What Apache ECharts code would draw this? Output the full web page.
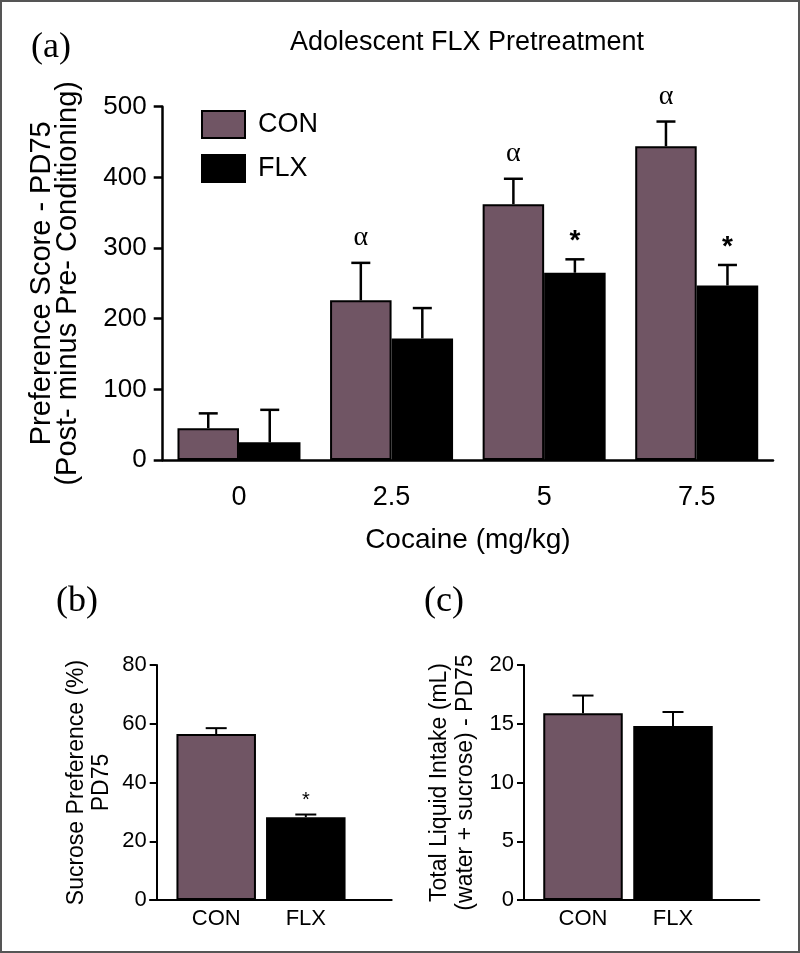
<!DOCTYPE html>
<html>
<head>
<meta charset="utf-8">
<script src="https://cdn.jsdelivr.net/npm/echarts@6/dist/echarts.min.js"></script>
<style>
  html, body { margin: 0; padding: 0; background: #fff; }
  #chart { width: 800px; height: 953px; }
</style>
</head>
<body>
<div id="chart"></div>
<script>
// ---------- Data ----------
const groups = ['CON', 'FLX'];
const aCategories = ['0', '2.5', '5', '7.5'];
const aConMean = [45, 226, 362, 444];
const aConErr  = [21, 53, 36, 35];
const aFlxMean = [25, 172, 265, 247];
const aFlxErr  = [46, 43, 19, 29];
const aConSig  = ['', 'α', 'α', 'α'];
const aFlxSig  = ['', '', '*', '*'];

const bMean = [56.5, 28.2];
const bErr  = [2.0, 0.9];
const bSig  = ['', '*'];

const cMean = [15.9, 14.8];
const cErr  = [1.5, 1.2];
const cSig  = ['', ''];

const aTitle = 'Adolescent FLX Pretreatment';
const aYName = 'Preference Score - PD75\n(Post- minus Pre- Conditioning)';
const aXName = 'Cocaine (mg/kg)';
const bYName = 'Sucrose Preference (%)\nPD75';
const cYName = 'Total Liquid Intake (mL)\n(water + sucrose) - PD75';

// ---------- Styles ----------
const SANS = "'Liberation Sans', Arial, Helvetica, sans-serif";
const SERIF = "'Liberation Serif', 'Times New Roman', serif";
const CON_COLOR = '#705564';
const FLX_COLOR = '#000000';
const groupColors = [CON_COLOR, FLX_COLOR];

function errSeries(xi, yi, means, errs, sigs, offset, capW, lw, sigFont, sigGap) {
  return {
    type: 'custom',
    xAxisIndex: xi, yAxisIndex: yi,
    z: 5,
    silent: true,
    data: means.map((m, i) => [i, m, errs[i]]),
    encode: { x: 0, y: 1 },
    renderItem: function (params, api) {
      const i = api.value(0), m = api.value(1), e = api.value(2);
      const p0 = api.coord([i, m]);
      const p1 = api.coord([i, m + e]);
      const x = p0[0] + offset;
      const sig = sigs[params.dataIndex];
      const children = [
        { type: 'line', shape: { x1: x, y1: p0[1], x2: x, y2: p1[1] }, style: { stroke: '#000', lineWidth: lw } },
        { type: 'line', shape: { x1: x - capW / 2, y1: p1[1], x2: x + capW / 2, y2: p1[1] }, style: { stroke: '#000', lineWidth: lw } }
      ];
      if (sig) {
        const isAlpha = sig === 'α';
        children.push({
          type: 'text',
          style: {
            text: sig, x: x, y: p1[1] - (isAlpha ? sigGap[0] : sigGap[1]),
            align: 'center', verticalAlign: 'middle',
            font: isAlpha ? sigFont[0] : sigFont[1], fill: '#000'
          }
        });
      }
      return { type: 'group', children: children };
    }
  };
}

const chart = echarts.init(document.getElementById('chart'), null, { renderer: 'canvas' });

const option = {
  animation: false,
  backgroundColor: '#fff',
  textStyle: { fontFamily: SANS, color: '#000' },
  legend: {
    orient: 'vertical',
    left: 196, top: 105,
    itemWidth: 43, itemHeight: 27, itemGap: 15,
    icon: 'rect',
    data: groups,
    textStyle: { fontSize: 27, color: '#000', fontFamily: SANS, padding: [0, 0, 0, 8] },
    selectedMode: false
  },
  graphic: [
    { type: 'rect', shape: { x: 1, y: 1, width: 798, height: 951 }, style: { fill: 'none', stroke: '#555', lineWidth: 2 }, silent: true },
    { type: 'text', style: { text: '(a)', x: 51, y: 48, align: 'center', verticalAlign: 'middle', font: '36px ' + SERIF, fill: '#000' } },
    { type: 'text', style: { text: aTitle, x: 467, y: 43, align: 'center', verticalAlign: 'middle', font: '27px ' + SANS, fill: '#000' } },
    { type: 'text', style: { text: '(b)', x: 77, y: 602, align: 'center', verticalAlign: 'middle', font: '36px ' + SERIF, fill: '#000' } },
    { type: 'text', style: { text: '(c)', x: 444, y: 602, align: 'center', verticalAlign: 'middle', font: '36px ' + SERIF, fill: '#000' } }
  ],
  grid: [
    { left: 162.7, width: 610.3, top: 106.7, height: 353.3 },   // a
    { left: 171.4, width: 179.2, top: 665, height: 235 },       // b bars
    { left: 150, width: 241.7, top: 665, height: 235 },         // b axis line
    { left: 538, width: 180, top: 665, height: 235 },           // c bars
    { left: 518.3, width: 241, top: 665, height: 235 }          // c axis line
  ],
  xAxis: [
    {
      gridIndex: 0, type: 'category', data: aCategories,
      axisLine: { lineStyle: { color: '#000', width: 2.5 } },
      axisTick: { show: false },
      axisLabel: { fontSize: 27, color: '#000', margin: 24, fontFamily: SANS },
      name: aXName, nameLocation: 'middle', nameGap: 66,
      nameTextStyle: { fontSize: 28, color: '#000', fontFamily: SANS }
    },
    {
      gridIndex: 1, type: 'category', data: groups,
      axisLine: { show: false }, axisTick: { show: false },
      axisLabel: { fontSize: 22, color: '#000', margin: 8, fontFamily: SANS }
    },
    {
      gridIndex: 2, type: 'value', min: 0, max: 1,
      axisLine: { onZero: false, lineStyle: { color: '#000', width: 2 } },
      axisTick: { show: false }, axisLabel: { show: false }, splitLine: { show: false }
    },
    {
      gridIndex: 3, type: 'category', data: groups,
      axisLine: { show: false }, axisTick: { show: false },
      axisLabel: { fontSize: 22, color: '#000', margin: 8, fontFamily: SANS }
    },
    {
      gridIndex: 4, type: 'value', min: 0, max: 1,
      axisLine: { onZero: false, lineStyle: { color: '#000', width: 2 } },
      axisTick: { show: false }, axisLabel: { show: false }, splitLine: { show: false }
    }
  ],
  yAxis: [
    {
      gridIndex: 0, type: 'value', min: 0, max: 500, interval: 100,
      axisLine: { show: true, lineStyle: { color: '#000', width: 2.5 } },
      axisTick: { show: true, length: 9, lineStyle: { color: '#000', width: 2.5 } },
      axisLabel: { fontSize: 26, color: '#000', margin: 16, fontFamily: SANS },
      splitLine: { show: false },
      name: aYName, nameLocation: 'middle', nameGap: 82,
      nameTextStyle: { fontSize: 29, lineHeight: 26, color: '#000', fontFamily: SANS, align: 'center' }
    },
    {
      gridIndex: 1, type: 'value', min: 0, max: 80, interval: 20, offset: 14.7,
      axisLine: { show: true, lineStyle: { color: '#000', width: 2 } },
      axisTick: { show: true, length: 7, lineStyle: { color: '#000', width: 2 } },
      axisLabel: { fontSize: 22, color: '#000', margin: 10, fontFamily: SANS },
      splitLine: { show: false },
      name: bYName, nameLocation: 'middle', nameGap: 43,
      nameTextStyle: { fontSize: 23, lineHeight: 25, color: '#000', fontFamily: SANS, align: 'center' }
    },
    { gridIndex: 2, type: 'value', min: 0, max: 1, show: false },
    {
      gridIndex: 3, type: 'value', min: 0, max: 20, interval: 5, offset: 14,
      axisLine: { show: true, lineStyle: { color: '#000', width: 2 } },
      axisTick: { show: true, length: 7, lineStyle: { color: '#000', width: 2 } },
      axisLabel: { fontSize: 22, color: '#000', margin: 10, fontFamily: SANS },
      splitLine: { show: false },
      name: cYName, nameLocation: 'middle', nameGap: 45,
      nameTextStyle: { fontSize: 23, lineHeight: 26, color: '#000', fontFamily: SANS, align: 'center' }
    },
    { gridIndex: 4, type: 'value', min: 0, max: 1, show: false }
  ],
  series: [
    {
      name: 'CON', type: 'bar', xAxisIndex: 0, yAxisIndex: 0,
      data: aConMean, barWidth: 61.5, barGap: '0%',
      itemStyle: { color: CON_COLOR, borderColor: '#000', borderWidth: 2 }
    },
    {
      name: 'FLX', type: 'bar', xAxisIndex: 0, yAxisIndex: 0,
      data: aFlxMean, barWidth: 61.5, barGap: '0%',
      itemStyle: { color: FLX_COLOR, borderColor: '#000', borderWidth: 2 }
    },
    errSeries(0, 0, aConMean, aConErr, aConSig, -30.75, 19, 2.5, ['28px ' + SERIF, 'bold 28px ' + SANS], [25, 18]),
    errSeries(0, 0, aFlxMean, aFlxErr, aFlxSig, 30.75, 19, 2.5, ['28px ' + SERIF, 'bold 28px ' + SANS], [25, 18]),
    {
      type: 'bar', xAxisIndex: 1, yAxisIndex: 1, barWidth: 79.5,
      data: bMean.map((v, i) => ({ value: v, itemStyle: { color: groupColors[i] } })),
      itemStyle: { borderColor: '#000', borderWidth: 2 }
    },
    errSeries(1, 1, bMean, bErr, bSig, 0, 21, 2, ['22px ' + SERIF, '20px ' + SANS], [20, 14]),
    {
      type: 'bar', xAxisIndex: 3, yAxisIndex: 3, barWidth: 79.5,
      data: cMean.map((v, i) => ({ value: v, itemStyle: { color: groupColors[i] } })),
      itemStyle: { borderColor: '#000', borderWidth: 2 }
    },
    errSeries(3, 3, cMean, cErr, cSig, 0, 21, 2, ['22px ' + SERIF, '20px ' + SANS], [20, 14])
  ]
};

chart.setOption(option);
</script>
</body>
</html>
